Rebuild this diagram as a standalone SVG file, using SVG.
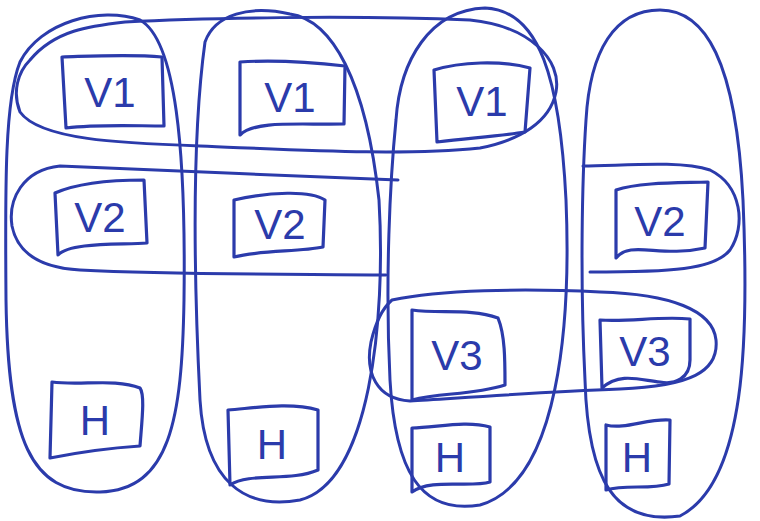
<svg xmlns="http://www.w3.org/2000/svg" width="760" height="521" viewBox="0 0 760 521">
<style>
.ln{fill:none;stroke:#2b3bab;stroke-width:3;stroke-linecap:round;stroke-linejoin:round}
.bx{fill:none;stroke:#2b3bab;stroke-width:3.2;stroke-linecap:round;stroke-linejoin:round}
.t{font-family:"Liberation Sans",Arial,sans-serif;font-size:42px;fill:#2b3bab;text-anchor:middle;dominant-baseline:central}
</style>
<rect width="760" height="521" fill="#ffffff"/>
<g id="groups">
<g id="col1"><path class="ln" d="M20,62 C40,22 100,6 140,20 C176,40 186,150 184,300 C182,420 170,490 100,492 C30,494 8,440 6,300 C5,180 5,100 20,62 Z"/></g>
<g id="col2"><path class="ln" d="M205,42 C215,14 250,5 290,14 C332,20 366,80 379,200 C386,320 370,482 300,500 C245,510 205,482 200,400 C195,300 190,150 205,42 Z"/></g>
<g id="col3"><path class="ln" d="M396,120 C400,60 430,10 485,8 C540,10 560,80 566,200 C571,320 560,482 480,505 C420,515 395,470 390,380 C385,280 390,180 396,120 Z"/></g>
<g id="col4"><path class="ln" d="M586,120 C590,50 615,10 660,10 C705,10 736,60 743,200 C749,340 746,482 680,516 C615,525 588,482 585,380 C580,280 582,180 586,120 Z"/></g>
<g id="row1"><path class="ln" d="M30,60 C55,30 90,26 125,22 C200,18 350,15 470,20 C530,26 562,60 556,92 C550,122 520,140 480,148 C400,156 300,150 200,146 C120,143 40,140 20,112 C12,92 18,72 30,60 Z"/></g>
<g id="row2"><path class="ln" d="M398,180 C300,176 150,170 60,166 C22,170 8,200 12,226 C18,256 45,268 80,270 C180,275 300,274 386,275"/></g>
<g id="row2b"><path class="ln" d="M583,166 C620,166 680,160 710,170 C742,186 746,226 730,250 C714,270 670,272 590,272"/></g>
<g id="row3"><path class="ln" d="M392,300 C440,290 520,288 600,292 C670,294 713,310 716,340 C719,372 690,386 620,389 C540,392 460,398 410,401 C376,399 365,372 371,342 C377,316 385,306 392,300 Z"/></g>
</g>
<g id="connectors"></g>
<g id="n_v1a"><path class="bx" d="M62,57 L66,128 C100,124 135,126 164,126 L162,57 C130,54 95,56 62,57 Z"/><text class="t" x="110" y="92">V1</text></g>
<g id="n_v1b"><path class="bx" d="M240,62 L240,135 C255,120 300,125 344,124 L345,66 C310,62 270,60 240,62 Z"/><text class="t" x="290" y="97">V1</text></g>
<g id="n_v1c"><path class="bx" d="M434,70 L437,142 C470,138 500,136 525,132 L530,68 C500,60 460,62 434,70 Z"/><text class="t" x="482" y="101">V1</text></g>
<g id="n_v2a"><path class="bx" d="M55,193 L58,255 C70,242 120,245 147,243 L144,180 C115,180 80,182 55,193 Z"/><text class="t" x="100" y="217">V2</text></g>
<g id="n_v2b"><path class="bx" d="M234,200 L234,257 C260,250 300,252 323,247 L325,200 C310,190 270,192 234,200 Z"/><text class="t" x="280" y="224">V2</text></g>
<g id="n_v2c"><path class="bx" d="M616,190 L616,258 C630,240 660,258 705,248 L708,182 C680,183 640,182 616,190 Z"/><text class="t" x="660" y="221">V2</text></g>
<g id="n_v3a"><path class="bx" d="M412,310 L412,400 C440,392 470,396 505,385 C505,360 505,335 498,318 C470,308 440,314 412,310 Z"/><text class="t" x="457" y="355">V3</text></g>
<g id="n_v3b"><path class="bx" d="M600,320 L602,388 C620,372 640,380 660,382 C675,385 690,378 690,360 L690,319 C660,316 630,322 600,320 Z"/><text class="t" x="645" y="351">V3</text></g>
<g id="n_ha"><path class="bx" d="M52,382 L50,458 C80,452 110,448 140,446 C142,420 145,395 140,388 C115,378 80,386 52,382 Z"/><text class="t" x="95" y="420">H</text></g>
<g id="n_hb"><path class="bx" d="M228,410 L230,485 C250,472 290,482 318,470 L318,410 C290,402 255,408 228,410 Z"/><text class="t" x="272" y="444">H</text></g>
<g id="n_hc"><path class="bx" d="M412,428 L412,492 C430,478 470,488 490,482 L490,427 C465,420 435,428 412,428 Z"/><text class="t" x="450" y="457">H</text></g>
<g id="n_hd"><path class="bx" d="M606,425 L606,490 C625,484 650,490 669,484 L670,420 C648,418 625,430 606,425 Z"/><text class="t" x="637" y="457">H</text></g>
</svg>
